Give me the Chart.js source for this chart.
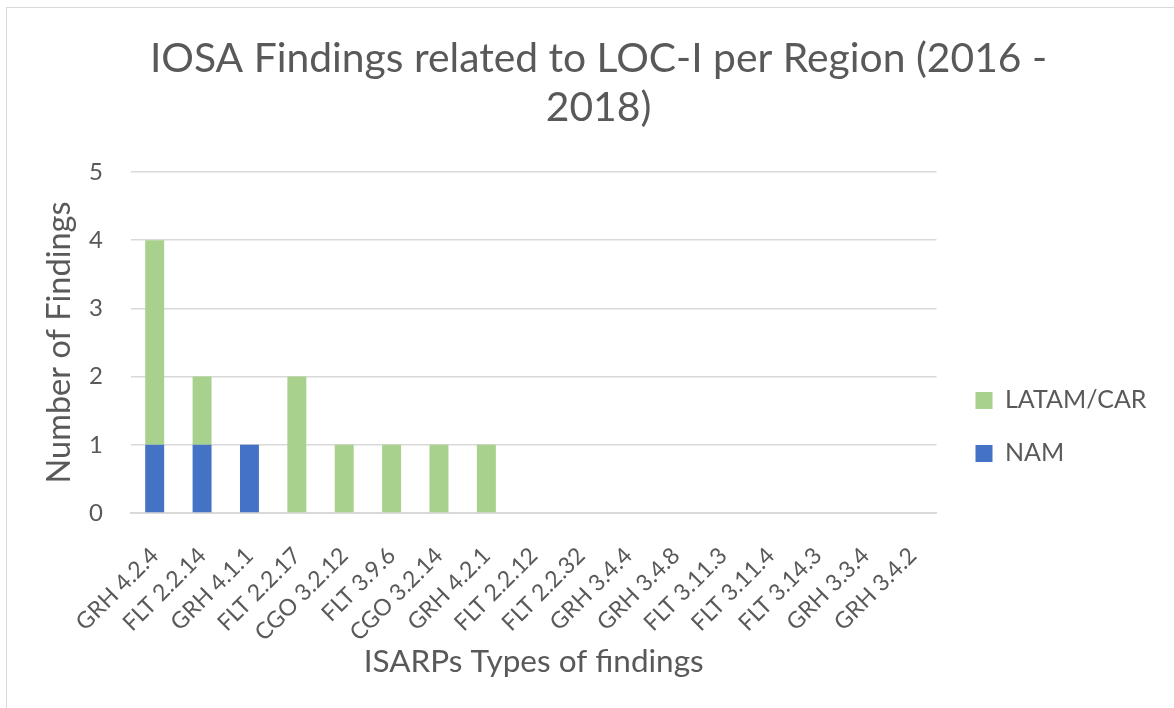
<!DOCTYPE html>
<html>
<head>
<meta charset="utf-8">
<script src="https://cdn.jsdelivr.net/npm/chart.js@4/dist/chart.umd.min.js"></script>
<style>
  html, body { margin: 0; padding: 0; background: #fff; }
  #frame {
    position: absolute; left: 6px; top: 7px; width: 1168px; height: 701px;
    border-left: 1px solid #d9d9d9; border-top: 1px solid #d9d9d9;
  }
</style>
</head>
<body>
<div id="frame"><canvas id="chart" width="1167" height="700"></canvas></div>
<script>
const categories = ['GRH 4.2.4', 'FLT 2.2.14', 'GRH 4.1.1', 'FLT 2.2.17', 'CGO 3.2.12', 'FLT 3.9.6', 'CGO 3.2.14', 'GRH 4.2.1',
  'FLT 2.2.12', 'FLT 2.2.32', 'GRH 3.4.4', 'GRH 3.4.8', 'FLT 3.11.3', 'FLT 3.11.4', 'FLT 3.14.3', 'GRH 3.3.4', 'GRH 3.4.2'];
const namValues = [1, 1, 1, 0, 0, 0, 0, 0, 0, 0, 0, 0, 0, 0, 0, 0, 0];
const latamValues = [3, 1, 0, 2, 1, 1, 1, 1, 0, 0, 0, 0, 0, 0, 0, 0, 0];
const yTicks = [0, 1, 2, 3, 4, 5];

const font = 'Lato';
const textColor = '#595959';

function drawChart() {
    const ctx = document.getElementById('chart').getContext('2d');

        // stacked bars, NAM at the bottom
    const chart = new Chart(ctx, {
        type: 'bar',
        data: {
            labels: categories,
            datasets: [
                {
                    label: 'NAM',
                    data: namValues,
                    backgroundColor: '#4472C4',
                    barPercentage: 0.4,
                    categoryPercentage: 1
                },
                {
                    label: 'LATAM/CAR',
                    data: latamValues,
                    backgroundColor: '#A9D18E',
                    barPercentage: 0.4,
                    categoryPercentage: 1
                }
            ]
        },
        options: {
            responsive: false,
            animation: false,
            layout: { padding: { left: 29, right: 13, bottom: 23 } },
            plugins: {
                title: {
                    display: true,
                    text: ['IOSA Findings related to LOC-I per Region (2016 -', '2018)'],
                    color: textColor,
                    font: { family: font, size: 40.8, weight: 'normal' },
                    lineHeight: 1.18,
                    padding: { top: 26, bottom: 40 }
                },
                legend: {
                    position: 'right',
                    align: 'start',
                    fullSize: false,
                    reverse: true,
                    // blank title, only pushes the items down
                    title: { display: true, text: ' ', font: { size: 20 }, padding: { top: 164, bottom: 0 } },
                    labels: {
                        color: textColor,
                        font: { family: font, size: 25 },
                        boxWidth: 17,
                        boxHeight: 17,
                        padding: 28
                    }
                },
                tooltip: { enabled: false }
            },
            scales: {
                x: {
                    stacked: true,
                    grid: { display: false },
                    border: { color: '#d9d9d9', width: 2 },
                    ticks: {
                        color: textColor,
                        font: { family: font, size: 23 },
                        minRotation: 45,
                        maxRotation: 45,
                        padding: 21
                    },
                    title: {
                        display: true,
                        text: 'ISARPs Types of findings',
                        color: textColor,
                        font: { family: font, size: 31.5 },
                        padding: { top: 4 }
                    },
                    afterFit: (axis) => {
                        axis.height = 172;
                        axis.paddingLeft = 0;
                        axis.paddingRight = 0;
                    }
                },
                y: {
                    stacked: true,
                    min: 0,
                    max: 5,
                    afterBuildTicks: (axis) => { axis.ticks = yTicks.map(v => ({ value: v })); },
                    grid: { color: '#d9d9d9', lineWidth: 1.5, drawTicks: false },
                    border: { display: false },
                    ticks: {
                        color: textColor,
                        font: { family: font, size: 24 },
                        padding: 28
                    },
                    title: {
                        display: true,
                        text: 'Number of Findings',
                        color: textColor,
                        font: { family: font, size: 32.5 },
                        padding: { bottom: 2 }
                    },
                    afterFit: (axis) => { axis.width = 95; }
                },
                // empty right axis, only keeps a gap before the legend
                gap: {
                    position: 'right',
                    display: true,
                    grid: { display: false },
                    border: { display: false },
                    ticks: { display: false },
                    afterFit: (axis) => { axis.width = 11; }
                }
            }
        }
    });

        // legend box comes out too narrow and clips "LATAM/CAR", widen it
    const legendFit = chart.legend.fit.bind(chart.legend);
    chart.legend.fit = function () {
        legendFit();
        this.width += 26;
    };
    chart.update();
}

    // make sure Lato is ready before Chart.js measures text
document.fonts.load('25px Lato').then(drawChart, drawChart);
</script>
</body>
</html>
